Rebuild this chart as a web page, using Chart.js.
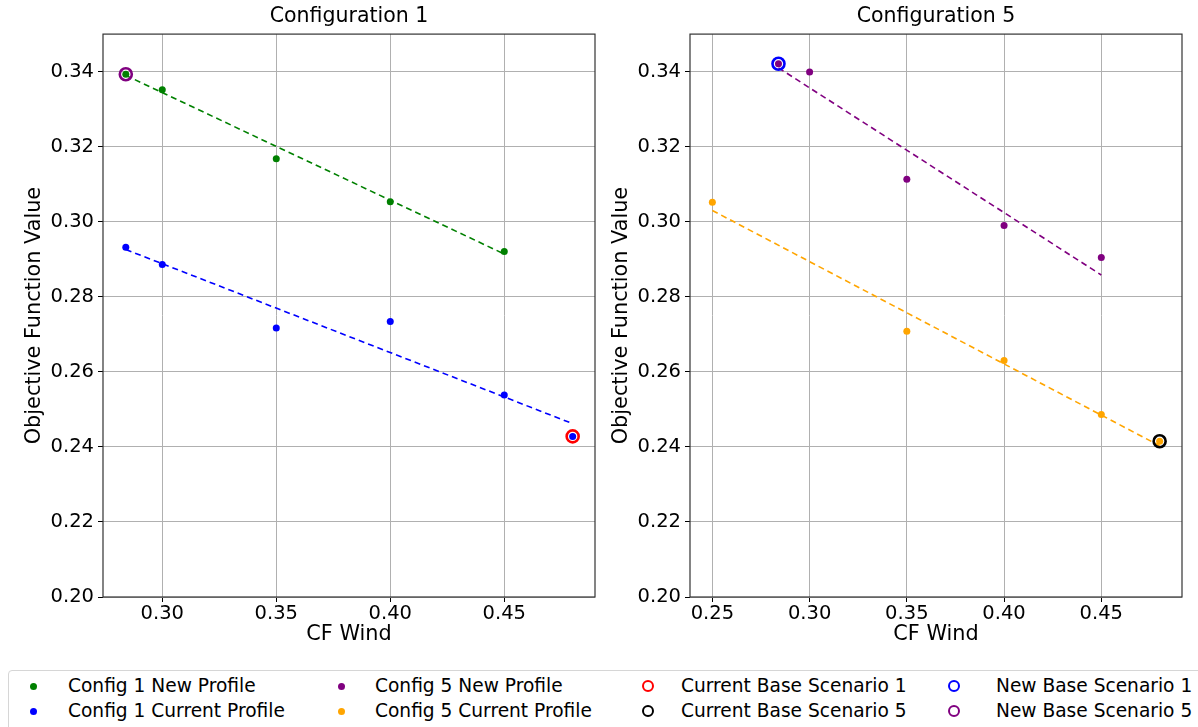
<!DOCTYPE html>
<html>
<head>
<meta charset="utf-8">
<script src="https://cdn.jsdelivr.net/npm/chart.js@4.4.1/dist/chart.umd.min.js"></script>
<style>
html,body{margin:0;padding:0;background:#fff;width:1198px;height:727px;overflow:hidden;font-family:"DejaVu Sans",sans-serif;}
#c1{position:absolute;left:0;top:0;}
#c2{position:absolute;left:600px;top:0;}
#legend{position:absolute;left:8px;top:670px;width:1210px;height:80px;border:1px solid #d6d6d6;border-radius:4px;box-sizing:border-box;}
.lt{position:absolute;font-size:18.6px;line-height:22px;color:#000;white-space:nowrap;font-family:"DejaVu Sans",sans-serif;}
.dot{position:absolute;width:7px;height:7px;border-radius:50%;}
.ring{position:absolute;width:8px;height:8px;border-radius:50%;border:2.5px solid #000;background:transparent;}
</style>
</head>
<body>
<canvas id="c1" width="600" height="665"></canvas>
<canvas id="c2" width="598" height="665"></canvas>
<div id="legend"></div>
<script>
// ---------- data ----------
const xTicks1 = [0.30, 0.35, 0.40, 0.45];
const xTicks5 = [0.25, 0.30, 0.35, 0.40, 0.45];
const yTicks = [0.20, 0.22, 0.24, 0.26, 0.28, 0.30, 0.32, 0.34];

const cfNew1 = [0.284, 0.30, 0.35, 0.40, 0.45];
const objNew1 = [0.3393, 0.3352, 0.3168, 0.3053, 0.2921];
const cfCur1 = [0.284, 0.30, 0.35, 0.40, 0.45, 0.48];
const objCur1 = [0.2932, 0.2886, 0.2717, 0.2734, 0.2538, 0.2428];

const cfNew5 = [0.284, 0.30, 0.35, 0.40, 0.45];
const objNew5 = [0.3421, 0.3399, 0.3113, 0.2990, 0.2905];
const cfCur5 = [0.25, 0.35, 0.40, 0.45, 0.48];
const objCur5 = [0.3052, 0.2708, 0.2630, 0.2486, 0.2415];

// fitted trend lines (endpoints)
const trendNew1X = [0.284, 0.45];  const trendNew1Y = [0.3390, 0.2914];
const trendCur1X = [0.284, 0.48];  const trendCur1Y = [0.2926, 0.2462];
const trendNew5X = [0.284, 0.45];  const trendNew5Y = [0.3410, 0.2858];
const trendCur5X = [0.25, 0.48];   const trendCur5Y = [0.3030, 0.2403];

// base scenarios
const curBase1 = {x: 0.48, y: 0.2428};
const newBase5 = {x: 0.284, y: 0.3393};
const newBase1 = {x: 0.284, y: 0.3421};
const curBase5 = {x: 0.48, y: 0.2415};

const legendLabels = [
  ['Config 1 New Profile', 'green', 'dot'],
  ['Config 1 Current Profile', '#0000ff', 'dot'],
  ['Config 5 New Profile', '#800080', 'dot'],
  ['Config 5 Current Profile', '#ffa500', 'dot'],
  ['Current Base Scenario 1', '#ff0000', 'ring'],
  ['Current Base Scenario 5', '#000000', 'ring'],
  ['New Base Scenario 1', '#0000ff', 'ring'],
  ['New Base Scenario 5', '#800080', 'ring']
];

// ---------- helpers ----------
const F = '"DejaVu Sans", sans-serif';
const pts = (xs, ys) => xs.map((x, i) => ({x: x, y: ys[i]}));
const dots = (xs, ys, c) => ({type: 'scatter', data: pts(xs, ys), backgroundColor: c, borderColor: c, pointRadius: 3.5, borderWidth: 0, order: 2});
const trend = (xs, ys, c) => ({type: 'line', data: pts(xs, ys), borderColor: c, borderWidth: 1.6, borderDash: [6, 4], pointRadius: 0, showLine: true, fill: false, order: 3});
const ring = (p, c) => ({type: 'scatter', data: [p], backgroundColor: 'rgba(0,0,0,0)', borderColor: c, pointRadius: 6, borderWidth: 2.6, order: 1});

const framePlugin = {
  id: 'frame',
  afterDraw(chart) {
    const a = chart.chartArea, ctx = chart.ctx;
    ctx.save();
    ctx.strokeStyle = '#333';
    ctx.lineWidth = 1.2;
    ctx.strokeRect(a.left, a.top, a.right - a.left, a.bottom - a.top);
    ctx.restore();
  }
};

function makeChart(id, title, xMin, xMax, xTicks, datasets, yW, yTitlePad, padRight) {
  return new Chart(document.getElementById(id), {
    type: 'scatter',
    data: {datasets: datasets},
    options: {
      responsive: false, animation: false, devicePixelRatio: 1,
      layout: {autoPadding: false, padding: {left: 0, right: padRight, top: 0, bottom: 14}},
      plugins: {
        legend: {display: false}, tooltip: {enabled: false},
        title: {display: true, fullSize: false, text: title, color: '#000', font: {family: F, size: 20.5, weight: 'normal'}, padding: {top: 4.5, bottom: 5}}
      },
      scales: {
        x: {
          type: 'linear', min: xMin, max: xMax,
          afterBuildTicks: s => { s.ticks = xTicks.map(v => ({value: v})); },
          afterFit: s => { s.height = 54; },
          grid: {color: '#b0b0b0', lineWidth: 1, tickColor: '#000', tickLength: 5},
          border: {display: false},
          ticks: {font: {family: F, size: 19.5}, color: '#000', padding: 0, maxRotation: 0, autoSkip: false, callback: v => Number(v).toFixed(2)},
          title: {display: true, text: 'CF Wind', color: '#000', font: {family: F, size: 20.8}, padding: {top: 0, bottom: 3.5}}
        },
        y: {
          type: 'linear', min: 0.20, max: 0.35,
          afterBuildTicks: s => { s.ticks = yTicks.map(v => ({value: v})); },
          afterFit: s => { s.width = yW; },
          grid: {color: '#b0b0b0', lineWidth: 1, tickColor: '#000', tickLength: 5},
          border: {display: false},
          ticks: {font: {family: F, size: 19.5}, color: '#000', padding: 4, autoSkip: false, callback: v => Number(v).toFixed(2)},
          title: {display: true, text: 'Objective Function Value', color: '#000', font: {family: F, size: 20.8}, padding: {top: yTitlePad, bottom: 0}}
        }
      }
    },
    plugins: [framePlugin]
  });
}

makeChart('c1', 'Configuration 1', 0.274, 0.4898, xTicks1, [
  ring(curBase1, '#ff0000'),
  ring(newBase5, '#800080'),
  dots(cfNew1, objNew1, 'green'),
  dots(cfCur1, objCur1, '#0000ff'),
  trend(trendNew1X, trendNew1Y, 'green'),
  trend(trendCur1X, trendCur1Y, '#0000ff')
], 103, 22.5, 5);

makeChart('c2', 'Configuration 5', 0.2385, 0.4915, xTicks5, [
  ring(newBase1, '#0000ff'),
  ring(curBase5, '#000000'),
  dots(cfNew5, objNew5, '#800080'),
  dots(cfCur5, objCur5, '#ffa500'),
  trend(trendNew5X, trendNew5Y, '#800080'),
  trend(trendCur5X, trendCur5Y, '#ffa500')
], 90, 9.5, 16);

// ---------- legend ----------
const lg = document.getElementById('legend');
const colX = [[32, 68], [340, 375], [647, 681], [953, 996]];
const rowY = [686, 711];
legendLabels.forEach((L, i) => {
  const col = Math.floor(i / 2), row = i % 2;
  const [mx, tx] = colX[col];
  const cy = rowY[row];
  const m = document.createElement('div');
  m.className = L[2];
  if (L[2] === 'dot') { m.style.background = L[1]; m.style.left = (mx - 8 - 3.5) + 'px'; m.style.top = (cy - 670 - 1 - 3.5) + 'px'; }
  else { m.style.borderColor = L[1]; m.style.left = (mx - 8 - 6.5) + 'px'; m.style.top = (cy - 670 - 1 - 6.5) + 'px'; }
  lg.appendChild(m);
  const t = document.createElement('div');
  t.className = 'lt';
  t.textContent = L[0];
  t.style.left = (tx - 9) + 'px';
  t.style.top = (cy - 670 - 1 - 11) + 'px';
  lg.appendChild(t);
});
</script>
</body>
</html>
